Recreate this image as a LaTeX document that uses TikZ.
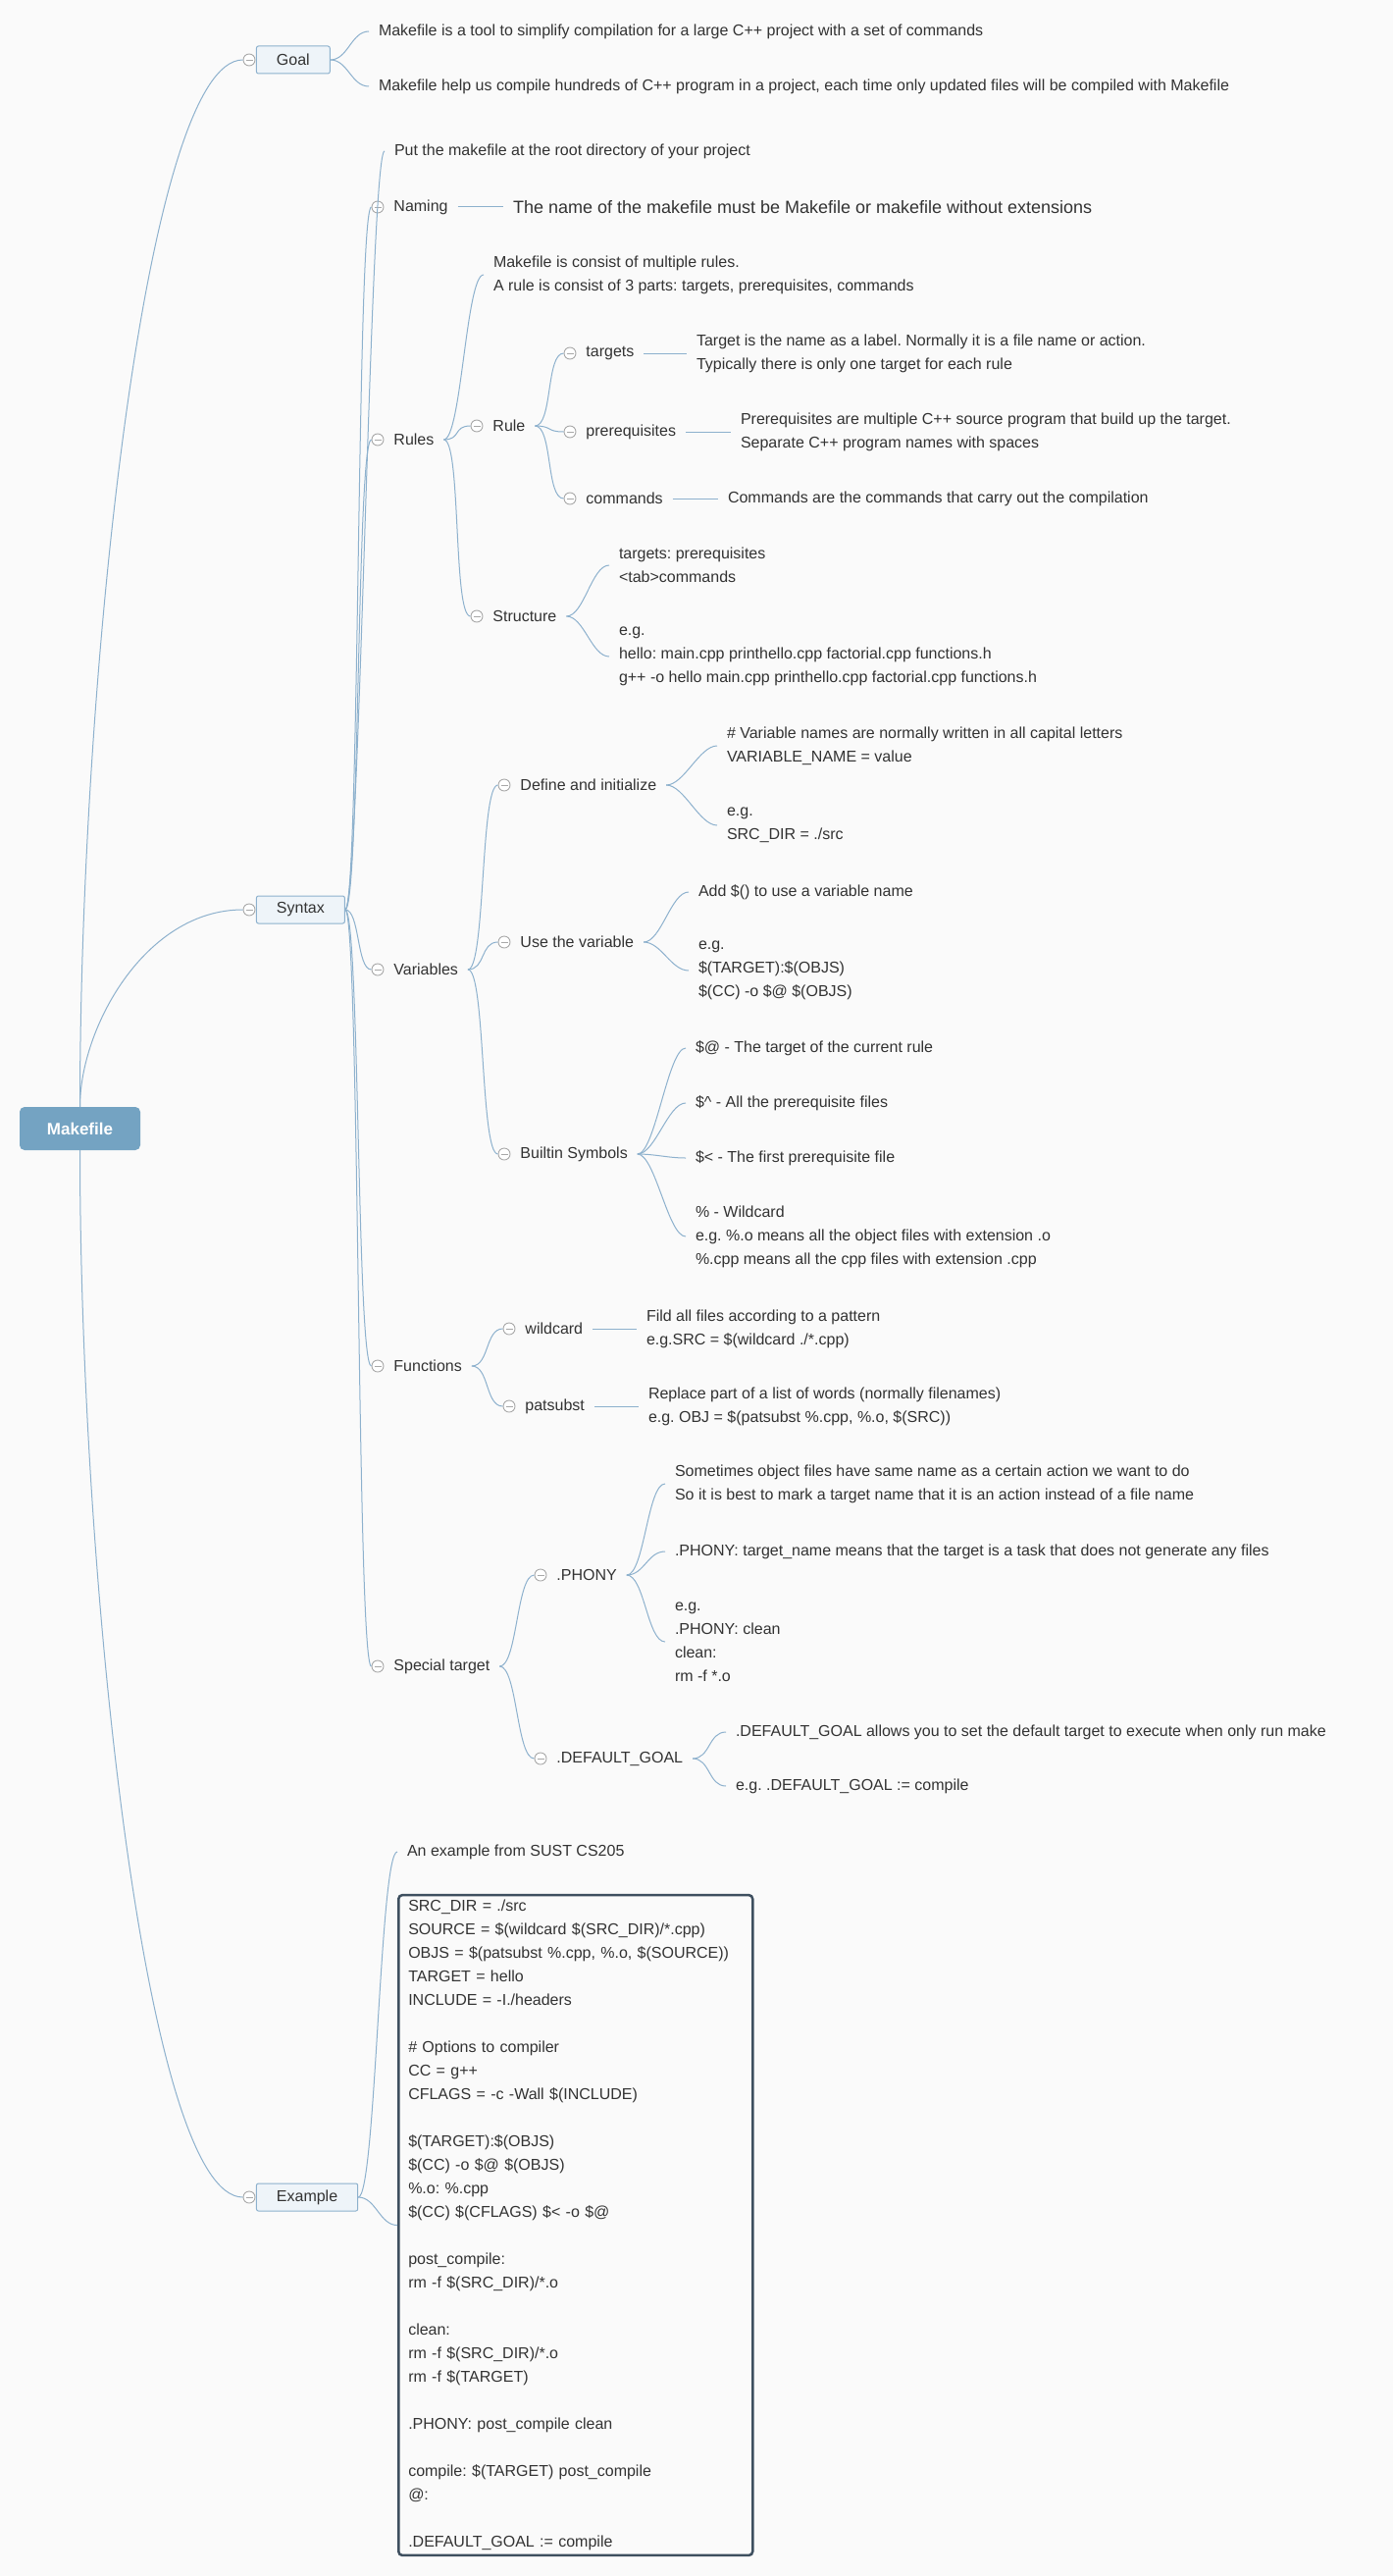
\documentclass[tikz,border=0pt]{standalone}
\usepackage{fontspec}
\setmainfont{Liberation Sans}
\usepackage{tikz}
\usetikzlibrary{positioning}
\frenchspacing

\definecolor{bgcol}{HTML}{FAFAFA}
\definecolor{ink}{HTML}{333333}
\definecolor{linkcol}{HTML}{8DB1CD}
\definecolor{rootcol}{HTML}{74A3C2}
\definecolor{boxcol}{HTML}{EEF4F9}
\definecolor{foldcol}{HTML}{A8A8A8}
\definecolor{codecol}{HTML}{3E4F5F}

\tikzset{
  txt/.style={font=\fontsize{16}{24}\selectfont, text=ink, inner sep=0pt, outer xsep=10pt, anchor=west, align=left},
  fold/.style={circle, draw=foldcol, fill=white, line width=0.9pt, minimum size=12pt, inner sep=0pt,
    path picture={\draw[foldcol, line width=0.9pt] ([xshift=-3.5pt]path picture bounding box.center) -- ([xshift=3.5pt]path picture bounding box.center);}},
  topbox/.style={draw=linkcol, fill=boxcol, rounded corners=2pt, line width=1pt, font=\fontsize{16}{24}\selectfont, text=ink, minimum height=28pt, inner xsep=20.5pt, inner ysep=0pt},
  root/.style={fill=rootcol, rounded corners=5pt, minimum width=123pt, minimum height=44pt, inner sep=0pt, text=white, font=\bfseries\fontsize{17}{20}\selectfont},
  code/.style={draw=codecol, line width=2.5pt, rounded corners=4pt, font=\fontsize{16}{24}\selectfont, text=ink, text width=341pt, inner xsep=10pt, inner ysep=5pt, anchor=west, align=left},
  link/.style={draw=linkcol, line width=1pt},
  twig/.style={to path={.. controls +(#1,0) and +(-#1,0) .. (\tikztotarget)}},
  twig/.default=18
}

\begin{document}
\begin{tikzpicture}[x=1pt, y=-1pt]
% Page and background
\useasboundingbox (0,0) rectangle (1420,2625);
\fill[bgcol] (0,0) rectangle (1420,2625);

% Root
\node[root] (mk) at (81.5,1150) {Makefile};

% Goal
\node[fold] (goalc) at (254,61) {};
\node[topbox, right=0.5pt of goalc] (goal) {Goal};
\node[txt] (goal1) at (376,32) {Makefile is a tool to simplify compilation for a large C++ project with a set of commands};
\node[txt] (goal2) at (376,88) {Makefile help us compile hundreds of C++ program in a project, each time only updated files will be compiled with Makefile};

% Syntax
\node[fold] (sync) at (254,927) {};
\node[topbox, right=0.5pt of sync] (syn) {Syntax};
\node[txt] (put) at (392,154) {Put the makefile at the root directory of your project};

% Naming
\node[fold] (namc) at (385,211) {};
\node[txt, right=0pt of namc] (nam) {Naming};
\node[txt, font=\fontsize{18}{24}\selectfont] (namd) at (513,211) {The name of the makefile must be Makefile or makefile without extensions};

% Rules
\node[fold] (rulc) at (385,448) {};
\node[txt, right=0pt of rulc] (rul) {Rules};
\node[txt] (rul1) at (493,280) {Makefile is consist of multiple rules.\\A rule is consist of 3 parts: targets, prerequisites, commands};
\node[fold] (rlc) at (486,434) {};
\node[txt, right=0pt of rlc] (rl) {Rule};
\node[fold] (tgc) at (581,360) {};
\node[txt, right=0pt of tgc] (tg) {targets};
\node[txt] (tgd) at (700,360) {Target is the name as a label. Normally it is a file name or action.\\Typically there is only one target for each rule};
\node[fold] (prc) at (581,440) {};
\node[txt, right=0pt of prc] (pr) {prerequisites};
\node[txt] (prd) at (745,440) {Prerequisites are multiple C++ source program that build up the target.\\Separate C++ program names with spaces};
\node[fold] (cmc) at (581,508) {};
\node[txt, right=0pt of cmc] (cm) {commands};
\node[txt] (cmd) at (732,508) {Commands are the commands that carry out the compilation};
\node[fold] (stc) at (486,628) {};
\node[txt, right=0pt of stc] (st) {Structure};
\node[txt] (st1) at (621,576) {targets: prerequisites\\<tab>commands};
\node[txt] (st2) at (621,669) {e.g.\\hello: main.cpp printhello.cpp factorial.cpp functions.h\\g++ -o hello main.cpp printhello.cpp factorial.cpp functions.h};

% Variables
\node[fold] (varc) at (385,988) {};
\node[txt, right=0pt of varc] (var) {Variables};
\node[fold] (defc) at (514,800) {};
\node[txt, right=0pt of defc] (def) {Define and initialize};
\node[txt] (def1) at (731,760) {\# Variable names are normally written in all capital letters\\VARIABLE\_NAME = value};
\node[txt] (def2) at (731,841) {e.g.\\SRC\_DIR = ./src};
\node[fold] (usec) at (514,960) {};
\node[txt, right=0pt of usec] (use) {Use the variable};
\node[txt] (use1) at (702,909) {Add \$() to use a variable name};
\node[txt] (use2) at (702,989) {e.g.\\\$(TARGET):\$(OBJS)\\\$(CC) -o \$@ \$(OBJS)};
\node[fold] (symc) at (514,1176) {};
\node[txt, right=0pt of symc] (sym) {Builtin Symbols};
\node[txt] (sym1) at (699,1068) {\$@ - The target of the current rule};
\node[txt] (sym2) at (699,1124) {\$\textasciicircum{} - All the prerequisite files};
\node[txt] (sym3) at (699,1180) {\$< - The first prerequisite file};
\node[txt] (sym4) at (699,1260) {\% - Wildcard\\e.g. \%.o means all the object files with extension .o\\\%.cpp means all the cpp files with extension .cpp};

% Functions
\node[fold] (func) at (385,1392) {};
\node[txt, right=0pt of func] (fun) {Functions};
\node[fold] (wildc) at (519,1354) {};
\node[txt, right=0pt of wildc] (wild) {wildcard};
\node[txt] (wildd) at (649,1354) {Fild all files according to a pattern\\e.g.SRC = \$(wildcard ./*.cpp)};
\node[fold] (patc) at (519,1433) {};
\node[txt, right=0pt of patc] (pat) {patsubst};
\node[txt] (patd) at (651,1433) {Replace part of a list of words (normally filenames)\\e.g. OBJ = \$(patsubst \%.cpp, \%.o, \$(SRC))};

% Special target
\node[fold] (spc) at (385,1698) {};
\node[txt, right=0pt of spc] (sp) {Special target};
\node[fold] (phc) at (551,1605) {};
\node[txt, right=0pt of phc] (ph) {.PHONY};
\node[txt] (ph1) at (678,1512) {Sometimes object files have same name as a certain action we want to do\\So it is best to mark a target name that it is an action instead of a file name};
\node[txt] (ph2) at (678,1581) {.PHONY: target\_name means that the target is a task that does not generate any files};
\node[txt] (ph3) at (678,1673) {e.g.\\.PHONY: clean\\clean:\\rm -f *.o};
\node[fold] (dgc) at (551,1792) {};
\node[txt, right=0pt of dgc] (dg) {.DEFAULT\_GOAL};
\node[txt] (dg1) at (740,1765) {.DEFAULT\_GOAL allows you to set the default target to execute when only run make};
\node[txt] (dg2) at (740,1820) {e.g. .DEFAULT\_GOAL := compile};

% Example
\node[fold] (exc) at (254,2239) {};
\node[topbox, right=0.5pt of exc] (ex) {Example};
\node[txt] (ex1) at (405,1887) {An example from SUST CS205};
\node[code] (ex2) at (405,2267.5) {SRC\_DIR = ./src\\
SOURCE = \$(wildcard \$(SRC\_DIR)/*.cpp)\\
OBJS = \$(patsubst \%.cpp, \%.o, \$(SOURCE))\\
TARGET = hello\\
INCLUDE = -I./headers\\
\mbox{}\\
\# Options to compiler\\
CC = g++\\
CFLAGS = -c -Wall \$(INCLUDE)\\
\mbox{}\\
\$(TARGET):\$(OBJS)\\
\$(CC) -o \$@ \$(OBJS)\\
\%.o: \%.cpp\\
\$(CC) \$(CFLAGS) \$< -o \$@\\
\mbox{}\\
post\_compile:\\
rm -f \$(SRC\_DIR)/*.o\\
\mbox{}\\
clean:\\
rm -f \$(SRC\_DIR)/*.o\\
rm -f \$(TARGET)\\
\mbox{}\\
.PHONY: post\_compile clean\\
\mbox{}\\
compile: \$(TARGET) post\_compile\\
@:\\
\mbox{}\\
.DEFAULT\_GOAL := compile};

% Draw root branches
\draw[link] (mk.north) .. controls +(0,-430) and +(-100,0) .. (goalc.west);
\draw[link] (mk.north) .. controls +(0,-80) and +(-100,0) .. (sync.west);
\draw[link] (mk.south) .. controls +(0,430) and +(-100,0) .. (exc.west);

% Draw goal branches
\draw[link] (goal.east) to[twig] (goal1.west);
\draw[link] (goal.east) to[twig] (goal2.west);

% Draw syntax branches
\draw[link] (syn.east) to[twig=15] (put.west);
\draw[link] (syn.east) to[twig=15] (namc.west);
\draw[link] (syn.east) to[twig=15] (rulc.west);
\draw[link] (syn.east) to[twig=15] (varc.west);
\draw[link] (syn.east) to[twig=15] (func.west);
\draw[link] (syn.east) to[twig=15] (spc.west);
\draw[link] (nam.east) -- (namd.west);

% Draw rules branches
\draw[link] (rul.east) to[twig] (rul1.west);
\draw[link] (rul.east) to[twig] (rlc.west);
\draw[link] (rul.east) to[twig] (stc.west);
\draw[link] (rl.east) to[twig] (tgc.west);
\draw[link] (rl.east) to[twig] (prc.west);
\draw[link] (rl.east) to[twig] (cmc.west);
\draw[link] (tg.east) -- (tgd.west);
\draw[link] (pr.east) -- (prd.west);
\draw[link] (cm.east) -- (cmd.west);
\draw[link] (st.east) to[twig] (st1.west);
\draw[link] (st.east) to[twig] (st2.west);

% Draw variables branches
\draw[link] (var.east) to[twig] (defc.west);
\draw[link] (var.east) to[twig] (usec.west);
\draw[link] (var.east) to[twig] (symc.west);
\draw[link] (def.east) to[twig] (def1.west);
\draw[link] (def.east) to[twig] (def2.west);
\draw[link] (use.east) to[twig] (use1.west);
\draw[link] (use.east) to[twig] (use2.west);
\draw[link] (sym.east) to[twig] (sym1.west);
\draw[link] (sym.east) to[twig] (sym2.west);
\draw[link] (sym.east) to[twig] (sym3.west);
\draw[link] (sym.east) to[twig] (sym4.west);

% Draw functions branches
\draw[link] (fun.east) to[twig] (wildc.west);
\draw[link] (fun.east) to[twig] (patc.west);
\draw[link] (wild.east) -- (wildd.west);
\draw[link] (pat.east) -- (patd.west);

% Draw special target branches
\draw[link] (sp.east) to[twig] (phc.west);
\draw[link] (sp.east) to[twig] (dgc.west);
\draw[link] (ph.east) to[twig] (ph1.west);
\draw[link] (ph.east) to[twig] (ph2.west);
\draw[link] (ph.east) to[twig] (ph3.west);
\draw[link] (dg.east) to[twig] (dg1.west);
\draw[link] (dg.east) to[twig] (dg2.west);

% Draw example branches
\draw[link] (ex.east) to[twig] (ex1.west);
\draw[link] (ex.east) to[twig] (ex2.west);
\end{tikzpicture}
\end{document}
